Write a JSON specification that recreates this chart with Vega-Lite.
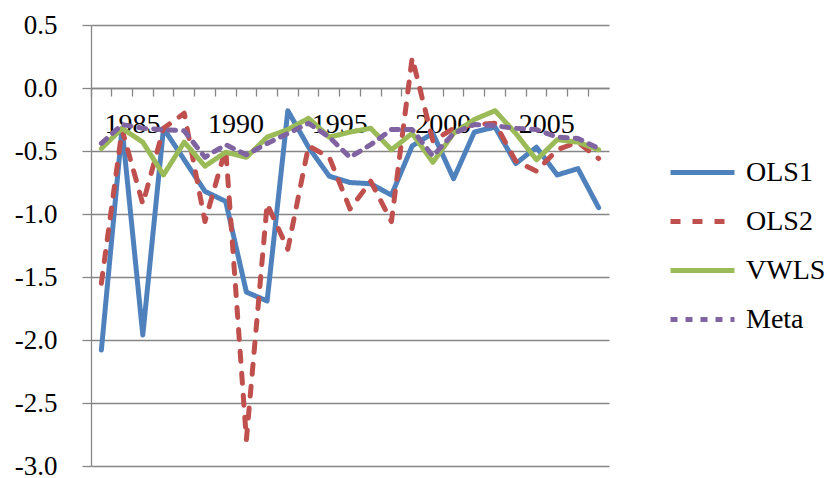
{
  "$schema": "https://vega.github.io/schema/vega-lite/v6.json",
  "width": 518,
  "height": 441,
  "autosize": {"type": "none"},
  "padding": {"left": 91, "top": 25, "right": 218, "bottom": 12},
  "background": "white",
  "config": {"view": {"stroke": null}},
  "data": {
    "values": [
      {"year": 1984, "series": "OLS1", "value": -2.08},
      {"year": 1985, "series": "OLS1", "value": -0.32},
      {"year": 1986, "series": "OLS1", "value": -1.96},
      {"year": 1987, "series": "OLS1", "value": -0.32},
      {"year": 1988, "series": "OLS1", "value": -0.57},
      {"year": 1989, "series": "OLS1", "value": -0.82},
      {"year": 1990, "series": "OLS1", "value": -0.90},
      {"year": 1991, "series": "OLS1", "value": -1.62},
      {"year": 1992, "series": "OLS1", "value": -1.69},
      {"year": 1993, "series": "OLS1", "value": -0.18},
      {"year": 1994, "series": "OLS1", "value": -0.47},
      {"year": 1995, "series": "OLS1", "value": -0.70},
      {"year": 1996, "series": "OLS1", "value": -0.75},
      {"year": 1997, "series": "OLS1", "value": -0.76},
      {"year": 1998, "series": "OLS1", "value": -0.85},
      {"year": 1999, "series": "OLS1", "value": -0.46},
      {"year": 2000, "series": "OLS1", "value": -0.36},
      {"year": 2001, "series": "OLS1", "value": -0.72},
      {"year": 2002, "series": "OLS1", "value": -0.35},
      {"year": 2003, "series": "OLS1", "value": -0.31},
      {"year": 2004, "series": "OLS1", "value": -0.60},
      {"year": 2005, "series": "OLS1", "value": -0.47},
      {"year": 2006, "series": "OLS1", "value": -0.69},
      {"year": 2007, "series": "OLS1", "value": -0.64},
      {"year": 2008, "series": "OLS1", "value": -0.95},
      {"year": 1984, "series": "OLS2", "value": -1.55},
      {"year": 1985, "series": "OLS2", "value": -0.33},
      {"year": 1986, "series": "OLS2", "value": -0.92},
      {"year": 1987, "series": "OLS2", "value": -0.32},
      {"year": 1988, "series": "OLS2", "value": -0.20},
      {"year": 1989, "series": "OLS2", "value": -1.06},
      {"year": 1990, "series": "OLS2", "value": -0.48},
      {"year": 1991, "series": "OLS2", "value": -2.79},
      {"year": 1992, "series": "OLS2", "value": -0.92},
      {"year": 1993, "series": "OLS2", "value": -1.28},
      {"year": 1994, "series": "OLS2", "value": -0.46},
      {"year": 1995, "series": "OLS2", "value": -0.55},
      {"year": 1996, "series": "OLS2", "value": -0.96},
      {"year": 1997, "series": "OLS2", "value": -0.74},
      {"year": 1998, "series": "OLS2", "value": -1.06},
      {"year": 1999, "series": "OLS2", "value": 0.24},
      {"year": 2000, "series": "OLS2", "value": -0.42},
      {"year": 2001, "series": "OLS2", "value": -0.32},
      {"year": 2002, "series": "OLS2", "value": -0.29},
      {"year": 2003, "series": "OLS2", "value": -0.28},
      {"year": 2004, "series": "OLS2", "value": -0.58},
      {"year": 2005, "series": "OLS2", "value": -0.66},
      {"year": 2006, "series": "OLS2", "value": -0.49},
      {"year": 2007, "series": "OLS2", "value": -0.43},
      {"year": 2008, "series": "OLS2", "value": -0.56},
      {"year": 1984, "series": "VWLS", "value": -0.48},
      {"year": 1985, "series": "VWLS", "value": -0.32},
      {"year": 1986, "series": "VWLS", "value": -0.43},
      {"year": 1987, "series": "VWLS", "value": -0.69},
      {"year": 1988, "series": "VWLS", "value": -0.43},
      {"year": 1989, "series": "VWLS", "value": -0.62},
      {"year": 1990, "series": "VWLS", "value": -0.51},
      {"year": 1991, "series": "VWLS", "value": -0.55},
      {"year": 1992, "series": "VWLS", "value": -0.39},
      {"year": 1993, "series": "VWLS", "value": -0.33},
      {"year": 1994, "series": "VWLS", "value": -0.24},
      {"year": 1995, "series": "VWLS", "value": -0.39},
      {"year": 1996, "series": "VWLS", "value": -0.35},
      {"year": 1997, "series": "VWLS", "value": -0.32},
      {"year": 1998, "series": "VWLS", "value": -0.49},
      {"year": 1999, "series": "VWLS", "value": -0.36},
      {"year": 2000, "series": "VWLS", "value": -0.59},
      {"year": 2001, "series": "VWLS", "value": -0.36},
      {"year": 2002, "series": "VWLS", "value": -0.25},
      {"year": 2003, "series": "VWLS", "value": -0.18},
      {"year": 2004, "series": "VWLS", "value": -0.36},
      {"year": 2005, "series": "VWLS", "value": -0.57},
      {"year": 2006, "series": "VWLS", "value": -0.41},
      {"year": 2007, "series": "VWLS", "value": -0.43},
      {"year": 2008, "series": "VWLS", "value": -0.49},
      {"year": 1984, "series": "Meta", "value": -0.44},
      {"year": 1985, "series": "Meta", "value": -0.29},
      {"year": 1986, "series": "Meta", "value": -0.32},
      {"year": 1987, "series": "Meta", "value": -0.33},
      {"year": 1988, "series": "Meta", "value": -0.34},
      {"year": 1989, "series": "Meta", "value": -0.55},
      {"year": 1990, "series": "Meta", "value": -0.45},
      {"year": 1991, "series": "Meta", "value": -0.53},
      {"year": 1992, "series": "Meta", "value": -0.44},
      {"year": 1993, "series": "Meta", "value": -0.36},
      {"year": 1994, "series": "Meta", "value": -0.28},
      {"year": 1995, "series": "Meta", "value": -0.39},
      {"year": 1996, "series": "Meta", "value": -0.55},
      {"year": 1997, "series": "Meta", "value": -0.45},
      {"year": 1998, "series": "Meta", "value": -0.33},
      {"year": 1999, "series": "Meta", "value": -0.33},
      {"year": 2000, "series": "Meta", "value": -0.54},
      {"year": 2001, "series": "Meta", "value": -0.36},
      {"year": 2002, "series": "Meta", "value": -0.29},
      {"year": 2003, "series": "Meta", "value": -0.30},
      {"year": 2004, "series": "Meta", "value": -0.32},
      {"year": 2005, "series": "Meta", "value": -0.33},
      {"year": 2006, "series": "Meta", "value": -0.39},
      {"year": 2007, "series": "Meta", "value": -0.40},
      {"year": 2008, "series": "Meta", "value": -0.48}
    ]
  },
  "mark": {"type": "line", "strokeCap": "round", "strokeJoin": "round"},
  "encoding": {
    "x": {
      "field": "year",
      "type": "ordinal",
      "bandPosition": 0.5,
      "scale": {"type": "band", "paddingInner": 0, "paddingOuter": 0},
      "axis": {
        "title": null,
        "orient": "bottom",
        "offset": -378,
        "bandPosition": 0,
        "labelOffset": 10.36,
        "domainColor": "#868686",
        "domainWidth": 1.3,
        "tickColor": "#868686",
        "tickWidth": 1.3,
        "tickSize": 8,
        "grid": false,
        "labelAngle": 0,
        "labelAlign": "center",
        "labelBaseline": "top",
        "labelPadding": 14,
        "labelFont": "Liberation Serif, DejaVu Serif, Times New Roman, serif",
        "labelFontSize": 28,
        "labelColor": "#000000",
        "labelOverlap": false,
        "labelExpr": "datum.value % 5 == 0 ? datum.label : ''"
      }
    },
    "y": {
      "field": "value",
      "type": "quantitative",
      "scale": {"domain": [-3, 0.5], "nice": false, "zero": false},
      "axis": {
        "title": null,
        "values": [-3, -2.5, -2, -1.5, -1, -0.5, 0, 0.5],
        "labelExpr": "replace(format(datum.value, '.1f'), '\u2212', '-')",
        "domainColor": "#868686",
        "domainWidth": 1.3,
        "tickColor": "#868686",
        "tickWidth": 1.3,
        "tickSize": 9,
        "grid": true,
        "gridColor": "#868686",
        "gridWidth": 1.3,
        "labelPadding": 25,
        "labelFont": "Liberation Serif, DejaVu Serif, Times New Roman, serif",
        "labelFontSize": 27,
        "labelColor": "#000000"
      }
    },
    "color": {
      "field": "series",
      "type": "nominal",
      "scale": {"domain": ["OLS1", "OLS2", "VWLS", "Meta"], "range": ["#4F81BD", "#C0504D", "#9BBB59", "#8064A2"]},
      "legend": {
        "title": null,
        "orient": "none",
        "legendX": 577,
        "legendY": 113,
        "symbolType": "stroke",
        "symbolSize": 4096,
        "labelFont": "Liberation Serif, DejaVu Serif, Times New Roman, serif",
        "labelFontSize": 28,
        "labelColor": "#000000",
        "labelOffset": 9,
        "rowPadding": 0,
        "labelLimit": 300
      }
    },
    "strokeDash": {
      "field": "series",
      "type": "nominal",
      "scale": {"domain": ["OLS1", "OLS2", "VWLS", "Meta"], "range": [[1, 0], [10, 12], [1, 0], [7, 8]]},
      "legend": null
    },
    "strokeWidth": {
      "field": "series",
      "type": "nominal",
      "scale": {"domain": ["OLS1", "OLS2", "VWLS", "Meta"], "range": [5, 5, 3, 3]},
      "legend": null
    }
  }
}
